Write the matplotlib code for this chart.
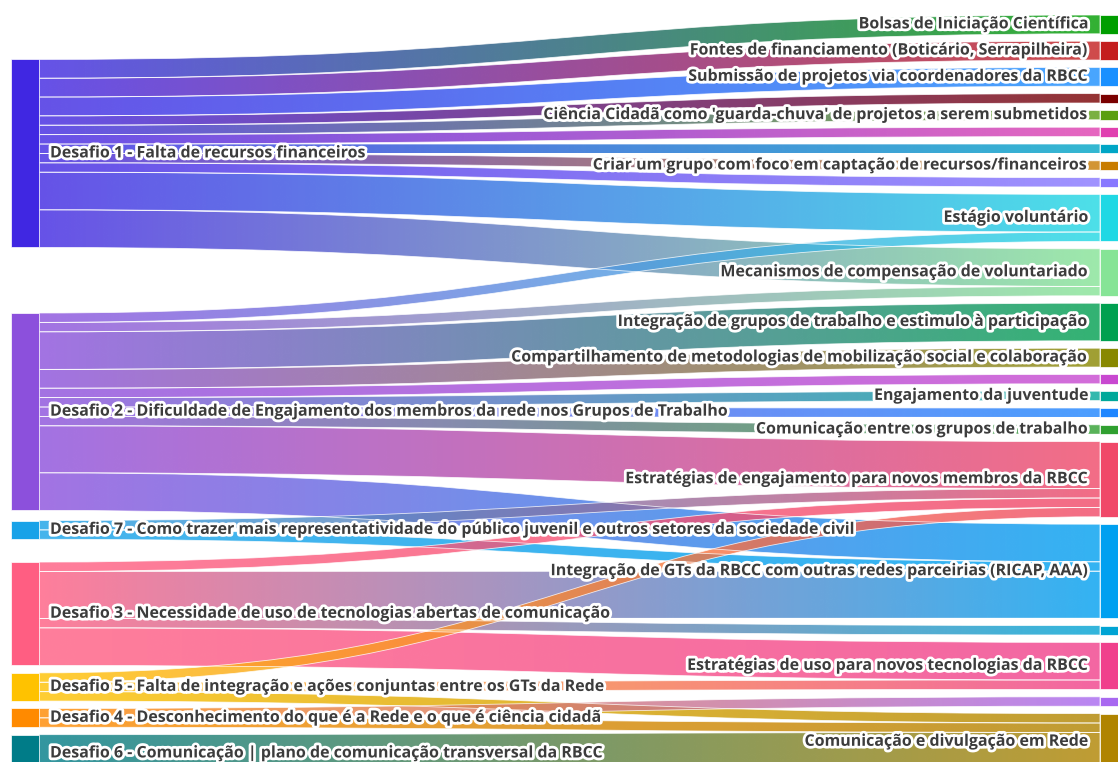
import numpy as np
import matplotlib.pyplot as plt
from matplotlib.path import Path
from matplotlib.patches import PathPatch, Rectangle
from matplotlib import patheffects as pe
from matplotlib.colors import to_rgb

# nós da esquerda (desafios)
left_labels = [
    "Desafio 1 - Falta de recursos financeiros",
    "Desafio 2 - Dificuldade de Engajamento dos membros da rede nos Grupos de Trabalho",
    "Desafio 7 - Como trazer mais representatividade do público juvenil e outros setores da sociedade civil",
    "Desafio 3 - Necessidade de uso de tecnologias abertas de comunicação",
    "Desafio 5 - Falta de integração e ações conjuntas entre os GTs da Rede",
    "Desafio 4 - Desconhecimento do que é a Rede e o que é ciência cidadã",
    "Desafio 6 - Comunicação | plano de comunicação transversal da RBCC",
]
left_colors = ["#4027e2", "#8c50dc", "#18a2e8", "#ff5e82", "#ffc200", "#ff8a00", "#007c88"]

# nós da direita (propostas)
right_labels = [
    "Bolsas de Iniciação Científica",
    "Fontes de financiamento (Boticário, Serrapilheira)",
    "Submissão de projetos via coordenadores da RBCC",
    "",
    "Ciência Cidadã como 'guarda-chuva' de projetos a serem submetidos",
    "",
    "",
    "Criar um grupo com foco em captação de recursos/financeiros",
    "",
    "Estágio voluntário",
    "Mecanismos de compensação de voluntariado",
    "Integração de grupos de trabalho e estimulo à participação",
    "Compartilhamento de metodologias de mobilização social e colaboração",
    "",
    "Engajamento da juventude",
    "",
    "Comunicação entre os grupos de trabalho",
    "Estratégias de engajamento para novos membros da RBCC",
    "Integração de GTs da RBCC com outras redes parceirias (RICAP, AAA)",
    "",
    "Estratégias de uso para novos tecnologias da RBCC",
    "",
    "Comunicação e divulgação em Rede",
]
right_colors = ["#009e00", "#c41e1e", "#1a90ff", "#7a0000", "#5a9e10", "#e040b0",
                "#00a6c6", "#c87c00", "#8878ff", "#20d8e4", "#86e496", "#00a050",
                "#888800", "#c848d0", "#00a89a", "#1e86ff", "#30a030", "#f04868",
                "#00a0f0", "#00a4d4", "#f0408c", "#a868f0", "#b08400"]

# ligações: origem (esquerda), destino (direita), valor
link_src = [0]*11 + [1]*10 + [2]*2 + [3]*4 + [4]*3 + [5]*2 + [6]
link_tgt = [0, 1, 2, 3, 4, 5, 6, 7, 8, 9, 10,
            9, 10, 11, 12, 13, 14, 15, 16, 17, 18,
            17, 18,
            17, 18, 19, 20,
            17, 20, 22,
            21, 22,
            22]
link_val = [2, 2, 2, 1, 1, 1, 1, 1, 1, 4, 4,
            1, 1, 4, 2, 1, 1, 1, 1, 5, 4,
            1, 1,
            1, 5, 1, 4,
            1, 1, 1,
            1, 1,
            4]

# layout (pixels)
W, H = 1118, 762
top, bottom, gap = 15, 770, 7.4
xl0, xl1 = 11, 39
xr0, xr1 = 1100, 1128
nl, nr = len(left_labels), len(right_labels)
src = np.array(link_src); tgt = np.array(link_tgt); val = np.array(link_val, float)

total = val.sum()
ky = (bottom - top - (nr - 1) * gap) / total

# coluna da direita empilhada
r_val = np.array([val[tgt == j].sum() for j in range(nr)])
r_y0 = np.zeros(nr)
y = top
for j in range(nr):
    r_y0[j] = y
    y += r_val[j] * ky + gap

# encaixe nos destinos (ordenado pela origem)
t_att = np.zeros((len(val), 2))
for j in range(nr):
    y = r_y0[j]
    for k in sorted(np.where(tgt == j)[0], key=lambda k: src[k]):
        t_att[k] = (y, y + val[k] * ky)
        y += val[k] * ky

# coluna da esquerda: média ponderada dos destinos + colisões
l_val = np.array([val[src == i].sum() for i in range(nl)])
l_h = l_val * ky
l_y0 = np.zeros(nl)
for i in range(nl):
    ks = np.where(src == i)[0]
    c = np.sum(t_att[ks].mean(axis=1) * val[ks]) / val[ks].sum()
    l_y0[i] = c - l_h[i] / 2
y = top
for i in range(nl):
    l_y0[i] = max(l_y0[i], y)
    y = l_y0[i] + l_h[i] + gap

s_att = np.zeros((len(val), 2))
for i in range(nl):
    y = l_y0[i]
    for k in sorted(np.where(src == i)[0], key=lambda k: tgt[k]):
        s_att[k] = (y, y + val[k] * ky)
        y += val[k] * ky

fig = plt.figure(figsize=(W / 100, H / 100), dpi=100)
ax = fig.add_axes([0, 0, 1, 1])

xm = (xl1 + xr0) / 2
g = np.linspace(0, 1, 256)[:, None]
for k in range(len(val)):
    (a0, b0), (a1, b1) = s_att[k], t_att[k]
    verts = [(xl1, a0), (xm, a0), (xm, a1), (xr0, a1), (xr0, b1),
             (xm, b1), (xm, b0), (xl1, b0), (xl1, a0)]
    codes = [Path.MOVETO, Path.CURVE4, Path.CURVE4, Path.CURVE4, Path.LINETO,
             Path.CURVE4, Path.CURVE4, Path.CURVE4, Path.CLOSEPOLY]
    path = Path(verts, codes)
    clip = PathPatch(path, facecolor='none', edgecolor='none')
    ax.add_patch(clip)
    c0 = np.array(to_rgb(left_colors[src[k]]))
    c1 = np.array(to_rgb(right_colors[tgt[k]]))
    rgb = c0 * (1 - g) + c1 * g
    rgba = np.concatenate([rgb, np.full((256, 1), 0.8)], axis=1)
    im = ax.imshow(rgba[None], extent=(xl1, xr0, max(b0, b1), min(a0, a1)),
                   aspect='auto', interpolation='bilinear', zorder=1)
    im.set_clip_path(clip)
    ax.add_patch(PathPatch(path, facecolor='none', edgecolor='white', lw=0.6,
                           alpha=0.8, zorder=2))

for i in range(nl):
    ax.add_patch(Rectangle((xl0, l_y0[i]), xl1 - xl0, l_h[i], facecolor=left_colors[i],
                           edgecolor='white', lw=0.5, zorder=3))
for j in range(nr):
    ax.add_patch(Rectangle((xr0, r_y0[j]), xr1 - xr0, r_val[j] * ky, facecolor=right_colors[j],
                           edgecolor='white', lw=0.5, zorder=3))

halo = [pe.withStroke(linewidth=4, foreground='white')]
tkw = dict(fontsize=11.5, fontweight='bold', family=['Open Sans', 'DejaVu Sans'],
           color='#3c3c3c', va='center', zorder=5, path_effects=halo)
for i in range(nl):
    ax.text(xl1 + 11, l_y0[i] + l_h[i] / 2, left_labels[i], ha='left', **tkw)
for j in range(nr):
    if right_labels[j]:
        ax.text(xr0 - 11, r_y0[j] + r_val[j] * ky / 2, right_labels[j], ha='right', **tkw)

ax.set_xlim(0, W)
ax.set_ylim(H, 0)
ax.axis('off')
fig.savefig('out.png', dpi=100, facecolor='white')
